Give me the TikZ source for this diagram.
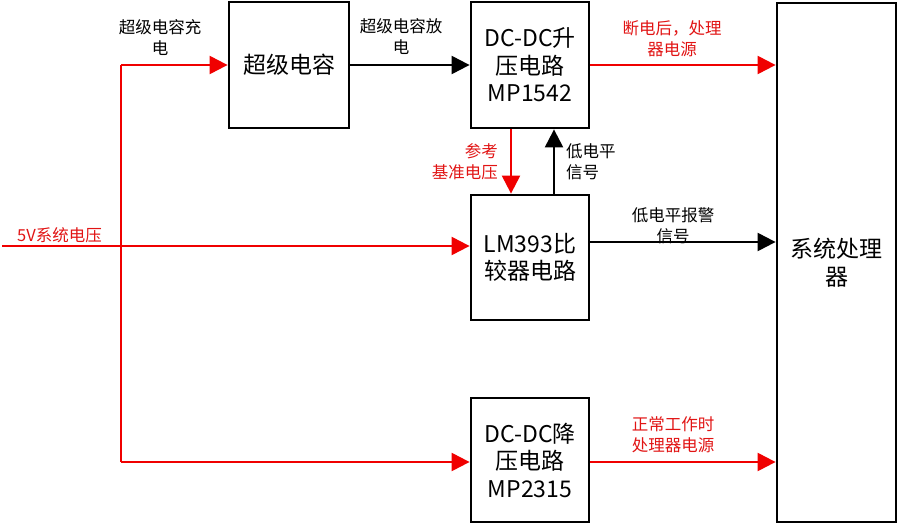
\documentclass[tikz,border=0pt]{standalone}
\usepackage{fontspec}
\setmainfont{Noto Sans CJK SC}
\usetikzlibrary{arrows.meta}
\definecolor{myred}{RGB}{240,0,0}
\definecolor{labred}{RGB}{225,20,20}
\tikzset{
  box/.style={draw=black, line width=2.8pt, rectangle, inner sep=0pt, align=center,
    font=\fontsize{23}{27.5}\selectfont},
  redline/.style={draw=myred, line width=2.2pt},
  redarr/.style={redline, -{Triangle[length=18pt,width=18pt]}},
  blkarr/.style={draw=black, line width=2.2pt, -{Triangle[length=18pt,width=18pt]}},
  lab/.style={align=center, inner sep=0pt, font=\fontsize{16.5}{21}\selectfont},
  rlab/.style={lab, text=labred},
}
\begin{document}
\begin{tikzpicture}[x=1pt,y=-1pt]
\useasboundingbox (0,0) rectangle (900,527);
% boxes
\node[box, minimum width=120pt, minimum height=126pt] (sc) at (289,65) {超级电容};
\node[box, minimum width=118pt, minimum height=126pt] (up) at (530,65) {DC-DC升\\压电路\\MP1542};
\node[box, minimum width=118pt, minimum height=125pt] (lm) at (530,257.5) {LM393比\\较器电路};
\node[box, minimum width=118pt, minimum height=124pt] (dn) at (530,460) {DC-DC降\\压电路\\MP2315};
\node[box, minimum width=119pt, minimum height=519pt] (proc) at (836.5,262.5) {系统处理\\器};
% coordinates
\coordinate (in) at (2,246);
\coordinate (jt) at (121,65);
\coordinate (jm) at (121,246);
\coordinate (jb) at (121,462);
% red power lines
\draw[redline] (jt) -- (jb);
\draw[redarr] (in) -- (in -| lm.west);
\draw[redarr] (jt) -- (sc.west);
\draw[redarr] (jb) -- (jb -| dn.west);
\draw[redarr] (up.east) -- (up.east -| proc.west);
\draw[redarr] (dn.east |- jb) -- (proc.west |- jb);
\draw[redarr] (up.south -| 511,0) -- (lm.north -| 511,0);
% black signal lines
\draw[blkarr] (sc.east) -- (up.west);
\draw[blkarr] (lm.north -| 554,0) -- (up.south -| 554,0);
\draw[blkarr] (lm.east |- 0,242) -- (proc.west |- 0,242);
% labels
\node[lab] (l1) at (160,38) {超级电容充\\电};
\node[lab] (l2) at (401,37) {超级电容放\\电};
\node[rlab] (l3) at (672,39) {断电后，处理\\器电源};
\node[rlab, anchor=east, align=right] (l4) at (498,162) {参考\\基准电压};
\node[lab, anchor=west, align=left] (l5) at (566,162) {低电平\\信号};
\node[lab] (l6) at (673,226) {低电平报警\\信号};
\node[rlab, anchor=west] (l7) at (17,235) {5V系统电压};
\node[rlab] (l8) at (673,435) {正常工作时\\处理器电源};
\end{tikzpicture}
\end{document}
